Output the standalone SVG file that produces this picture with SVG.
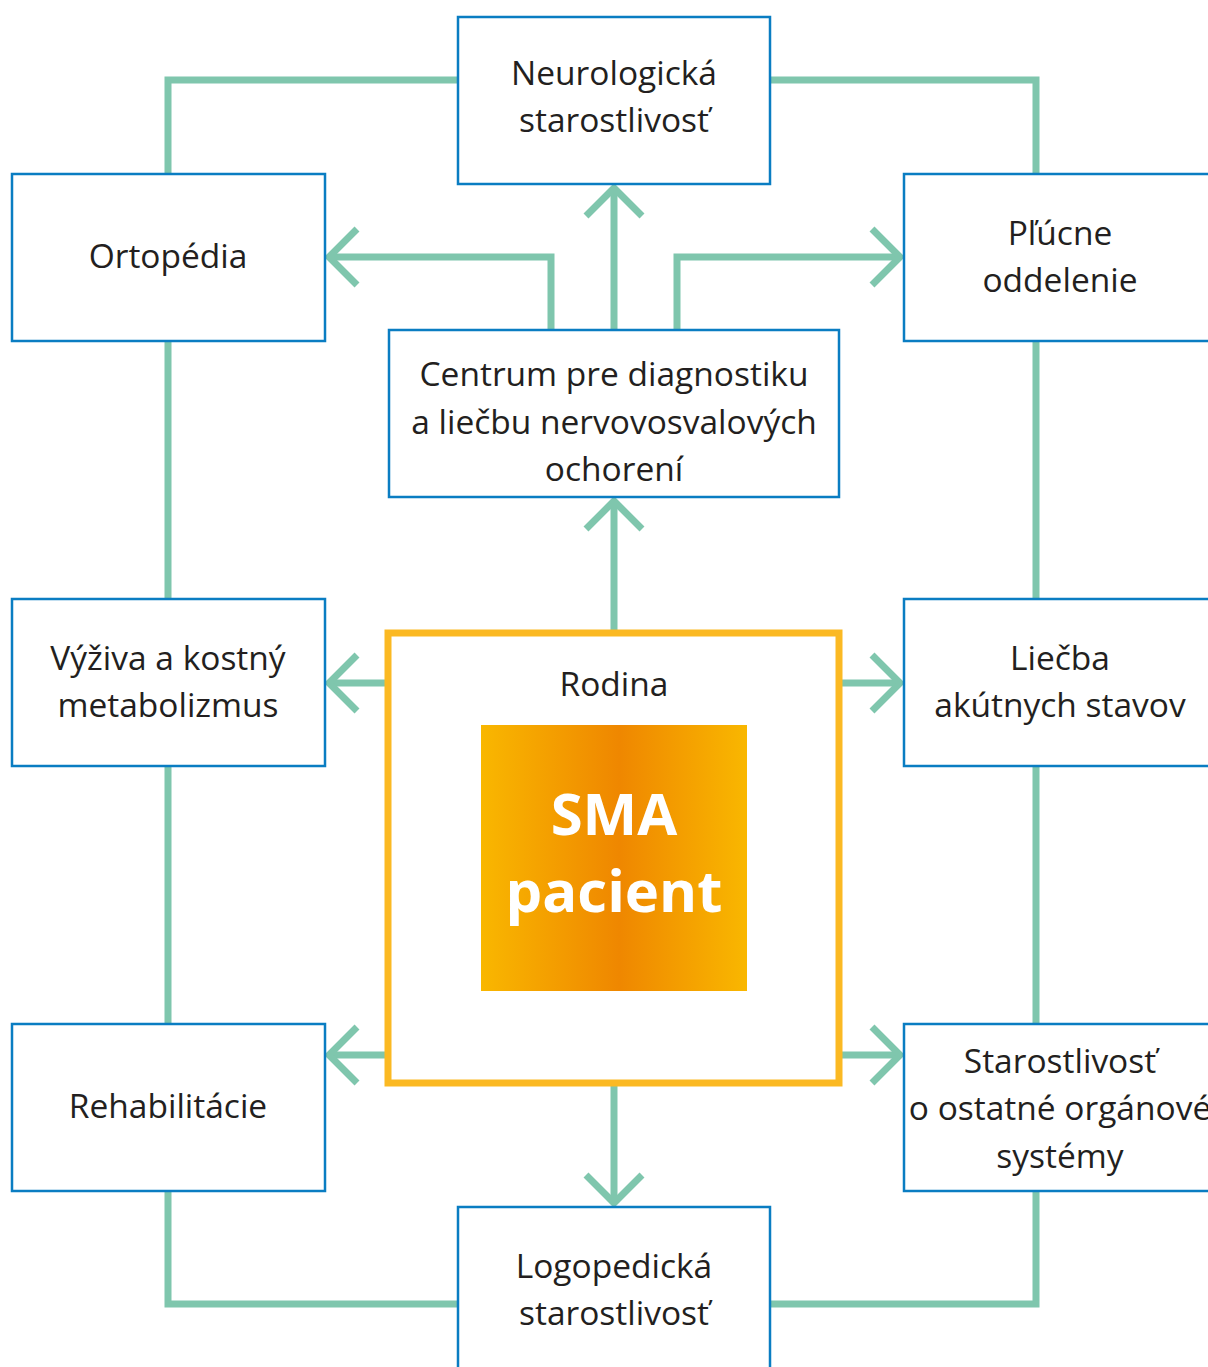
<svg xmlns="http://www.w3.org/2000/svg" width="1208" height="1367" viewBox="0 0 1208 1367">
  <defs>
    <linearGradient id="sma-fill" x1="0" y1="0" x2="1" y2="0">
      <stop offset="0" stop-color="#f9b700"/>
      <stop offset="0.52" stop-color="#ef8700"/>
      <stop offset="1" stop-color="#f9b700"/>
    </linearGradient>
    <style>
      .box { fill: #ffffff; stroke: #0a7dc2; stroke-width: 2.5; }
      .lbl { font-family: "Open Sans", "Noto Sans", sans-serif; font-size: 33.5px; fill: #231f20; text-anchor: middle; }
      .link { fill: none; stroke: #7fc6ad; stroke-width: 7; }
      .head { fill: none; stroke: #7fc6ad; stroke-width: 7; stroke-linejoin: miter; }
      .sma { font-family: "Open Sans", "Noto Sans", sans-serif; font-weight: 700; font-size: 58px; fill: #ffffff; text-anchor: middle; }
    </style>
  </defs>

  <!-- connectors -->
  <g id="connectors">
    <!-- outer ring between the specialist boxes -->
    <polyline class="link" points="458,80 168,80 168,174"/>
    <polyline class="link" points="770,80 1036,80 1036,174"/>
    <line class="link" x1="168" y1="341" x2="168" y2="599"/>
    <line class="link" x1="1036" y1="341" x2="1036" y2="599"/>
    <line class="link" x1="168" y1="766" x2="168" y2="1024"/>
    <line class="link" x1="1036" y1="766" x2="1036" y2="1024"/>
    <polyline class="link" points="168,1191 168,1304 458,1304"/>
    <polyline class="link" points="1036,1191 1036,1304 770,1304"/>

    <!-- from the centre box upward -->
    <polyline class="link" points="551,330 551,257 329,257"/>
    <polyline class="head" points="357,229 329,257 357,285"/>
    <line class="link" x1="614" y1="330" x2="614" y2="188"/>
    <polyline class="head" points="586,216 614,188 642,216"/>
    <polyline class="link" points="677,330 677,257 900,257"/>
    <polyline class="head" points="872,229 900,257 872,285"/>

    <!-- from the family frame -->
    <line class="link" x1="614" y1="633" x2="614" y2="501"/>
    <polyline class="head" points="586,529 614,501 642,529"/>
    <line class="link" x1="388" y1="683" x2="329" y2="683"/>
    <polyline class="head" points="357,655 329,683 357,711"/>
    <line class="link" x1="839" y1="683" x2="900" y2="683"/>
    <polyline class="head" points="872,655 900,683 872,711"/>
    <line class="link" x1="388" y1="1055" x2="329" y2="1055"/>
    <polyline class="head" points="357,1027 329,1055 357,1083"/>
    <line class="link" x1="839" y1="1055" x2="900" y2="1055"/>
    <polyline class="head" points="872,1027 900,1055 872,1083"/>
    <line class="link" x1="614" y1="1083" x2="614" y2="1203"/>
    <polyline class="head" points="586,1175 614,1203 642,1175"/>
  </g>

  <g id="neuro">
    <rect class="box" x="458" y="17" width="312" height="167"/>
    <text class="lbl" x="614" y="85">Neurologická</text>
    <text class="lbl" x="614" y="132">starostlivosť</text>
  </g>

  <g id="ortopedia">
    <rect class="box" x="12" y="174" width="313" height="167"/>
    <text class="lbl" x="168" y="268">Ortopédia</text>
  </g>

  <g id="plucne">
    <rect class="box" x="904" y="174" width="320" height="167"/>
    <text class="lbl" x="1060" y="245">Pľúcne</text>
    <text class="lbl" x="1060" y="292">oddelenie</text>
  </g>

  <g id="centrum">
    <rect class="box" x="389" y="330" width="450" height="167"/>
    <text class="lbl" x="614" y="386">Centrum pre diagnostiku</text>
    <text class="lbl" x="614" y="434">a liečbu nervovosvalových</text>
    <text class="lbl" x="614" y="481">ochorení</text>
  </g>

  <g id="vyziva">
    <rect class="box" x="12" y="599" width="313" height="167"/>
    <text class="lbl" x="168" y="670">Výživa a kostný</text>
    <text class="lbl" x="168" y="717">metabolizmus</text>
  </g>

  <g id="liecba">
    <rect class="box" x="904" y="599" width="320" height="167"/>
    <text class="lbl" x="1060" y="670">Liečba</text>
    <text class="lbl" x="1060" y="717">akútnych stavov</text>
  </g>

  <g id="rodina">
    <rect x="388" y="633" width="451" height="450" fill="#ffffff" stroke="#fbb923" stroke-width="7"/>
    <text class="lbl" x="614" y="696">Rodina</text>
  </g>

  <g id="pacient">
    <rect x="481" y="725" width="266" height="266" fill="url(#sma-fill)"/>
    <text class="sma" x="614" y="835">SMA</text>
    <text class="sma" x="614" y="912">pacient</text>
  </g>

  <g id="rehabilitacie">
    <rect class="box" x="12" y="1024" width="313" height="167"/>
    <text class="lbl" x="168" y="1118">Rehabilitácie</text>
  </g>

  <g id="organove">
    <rect class="box" x="904" y="1024" width="320" height="167"/>
    <text class="lbl" x="1060" y="1073">Starostlivosť</text>
    <text class="lbl" x="1060" y="1120">o ostatné orgánové</text>
    <text class="lbl" x="1060" y="1168">systémy</text>
  </g>

  <g id="logopedia">
    <rect class="box" x="458" y="1207" width="312" height="180"/>
    <text class="lbl" x="614" y="1278">Logopedická</text>
    <text class="lbl" x="614" y="1325">starostlivosť</text>
  </g>
</svg>
